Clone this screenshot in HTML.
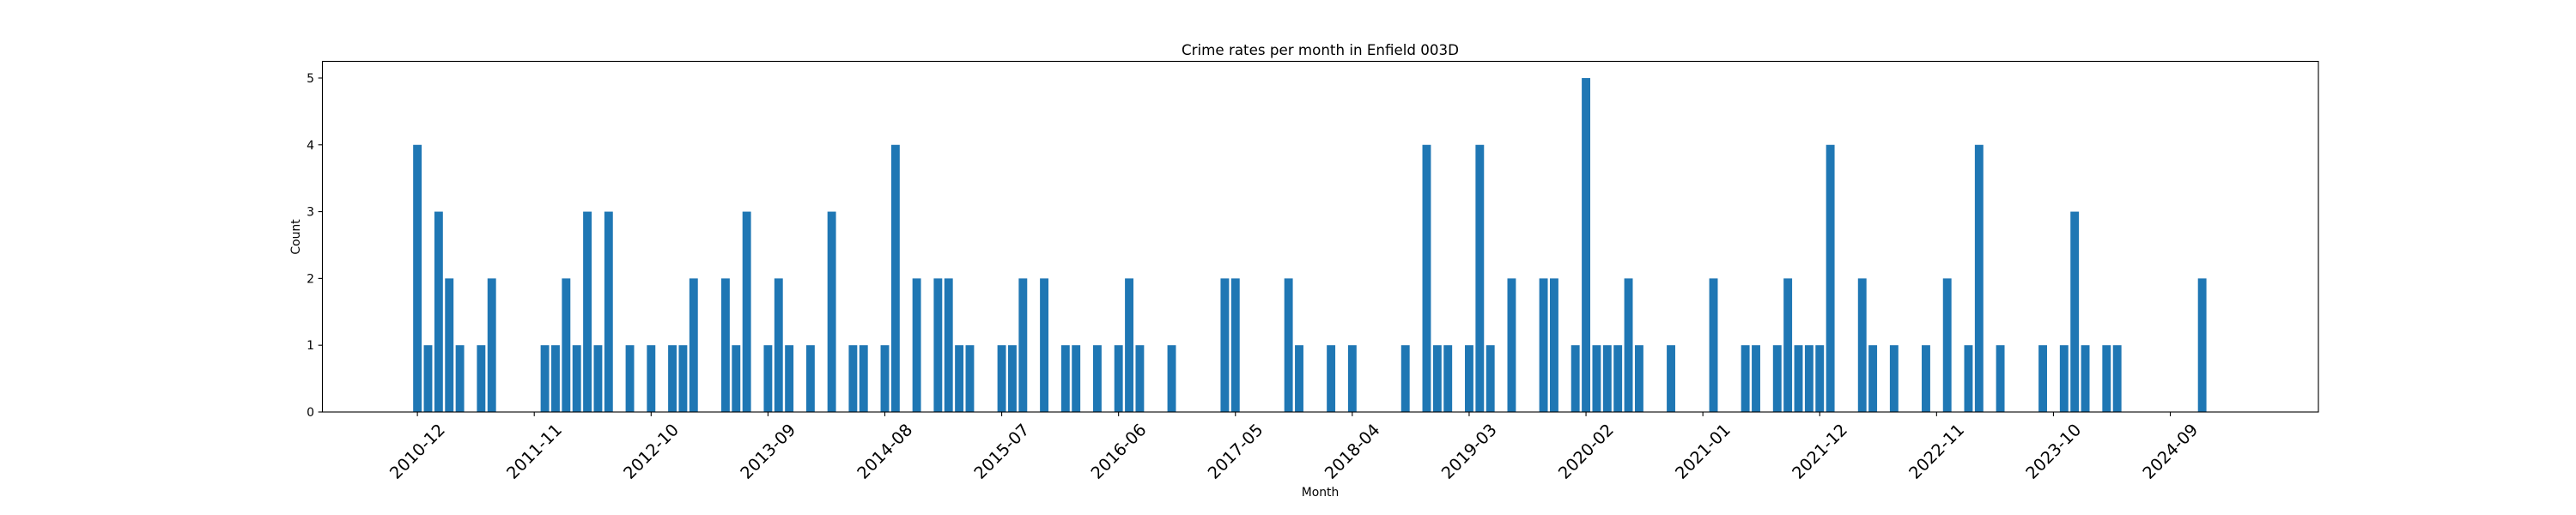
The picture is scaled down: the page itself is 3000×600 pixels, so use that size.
<!DOCTYPE html>
<html>
<head>
<meta charset="utf-8">
<style>
html,body{margin:0;padding:0;background:#fff;}
svg{display:block;}
text{font-family:"DejaVu Sans","Liberation Sans",sans-serif;fill:#000;}
</style>
</head>
<body>
<svg id="chart" width="3000" height="600" viewBox="0 0 3000 600" xmlns="http://www.w3.org/2000/svg">
  <rect x="0" y="0" width="3000" height="600" fill="#fff"/>
  <text x="1537.5" y="64" font-size="16.7" text-anchor="middle">Crime rates per month in Enfield 003D</text>
  <text x="1537.5" y="578" font-size="13.9" text-anchor="middle">Month</text>
  <text x="0" y="0" font-size="13.9" text-anchor="middle" transform="translate(349,276) rotate(-90)">Count</text>
  <g id="bars"></g>
  <g id="xticks"></g>
  <g id="yticks"></g>
  <rect x="375.5" y="71.5" width="2324.5" height="408.5" fill="none" stroke="#000" stroke-width="1.1"/>
</svg>
<script>
// ---- data ----
const startYear = 2010;
const startMonth = 12;
const counts = [
4,1,3,2,1,0,1,2,0,0,
0,0,1,1,2,1,3,1,3,0,
1,0,1,0,1,1,2,0,0,2,
1,3,0,1,2,1,0,1,0,3,
0,1,1,0,1,4,0,2,0,2,
2,1,1,0,0,1,1,2,0,2,
0,1,1,0,1,0,1,2,1,0,
0,1,0,0,0,0,2,2,0,0,
0,0,2,1,0,0,1,0,1,0,
0,0,0,1,0,4,1,1,0,1,
4,1,0,2,0,0,2,2,0,1,
5,1,1,1,2,1,0,0,1,0,
0,0,2,0,0,1,1,0,1,2,
1,1,1,4,0,0,2,1,0,1,
0,0,1,0,2,0,1,4,0,1,
0,0,0,1,0,1,3,1,0,1,
1,0,0,0,0,0,0,0,2,0,
0
];
const xTickLabels = ["2010-12","2011-11","2012-10","2013-09","2014-08","2015-07","2016-06","2017-05","2018-04","2019-03","2020-02","2021-01","2021-12","2022-11","2023-10","2024-09"];
const yTickValues = [0,1,2,3,4,5];

// ---- axes ----
const NS = "http://www.w3.org/2000/svg";
const n = counts.length;
const plotL = 375.5, plotR = 2700, zeroY = 480, topY = 71.5;
const span = (n - 1) + 0.8;
const xmin = -0.4 - 0.05 * span, xmax = (n - 1) + 0.4 + 0.05 * span;
function xScale(i){ return plotL + (i - xmin) / (xmax - xmin) * (plotR - plotL); }
const ymax = 5 * 1.05;
function yScale(v){ return zeroY - v / ymax * (zeroY - topY); }
const bw = 0.8 * (plotR - plotL) / (xmax - xmin);

function monthLabel(i){
  let m = startMonth - 1 + i;
  const y = startYear + Math.floor(m / 12);
  m = m % 12 + 1;
  return y + "-" + (m < 10 ? "0" + m : m);
}

const barsG = document.getElementById("bars");
counts.forEach((v, i) => {
  if (v <= 0) return;
  const r = document.createElementNS(NS, "rect");
  r.setAttribute("x", xScale(i) - bw / 2);
  r.setAttribute("y", yScale(v));
  r.setAttribute("width", bw);
  r.setAttribute("height", zeroY - yScale(v));
  r.setAttribute("fill", "#1f77b4");
  
  
  barsG.appendChild(r);
});

const xg = document.getElementById("xticks");
xTickLabels.forEach((lab, k) => {
  const i = k * 11;
  const x = xScale(i);
  const t = document.createElementNS(NS, "line");
  t.setAttribute("x1", x); t.setAttribute("x2", x);
  t.setAttribute("y1", zeroY); t.setAttribute("y2", zeroY + 4.9);
  t.setAttribute("stroke", "#000"); t.setAttribute("stroke-width", "1.1");
  
  
  xg.appendChild(t);
  const tx = document.createElementNS(NS, "text");
  tx.setAttribute("x", 0); tx.setAttribute("y", 0);
  tx.setAttribute("font-size", "19.4");
  tx.setAttribute("text-anchor", "middle");
  tx.setAttribute("dominant-baseline", "central");
  tx.setAttribute("transform", "translate(" + x + ",526) rotate(-45)");
  tx.textContent = lab;
  
  
  xg.appendChild(tx);
});

const yg = document.getElementById("yticks");
yTickValues.forEach(v => {
  const y = yScale(v);
  const t = document.createElementNS(NS, "line");
  t.setAttribute("x1", plotL - 4.9); t.setAttribute("x2", plotL);
  t.setAttribute("y1", y); t.setAttribute("y2", y);
  t.setAttribute("stroke", "#000"); t.setAttribute("stroke-width", "1.1");
  
  
  yg.appendChild(t);
  const tx = document.createElementNS(NS, "text");
  tx.setAttribute("x", plotL - 9.5);
  tx.setAttribute("y", y + 5);
  tx.setAttribute("font-size", "13.9");
  tx.setAttribute("text-anchor", "end");
  tx.textContent = String(v);
  
  
  yg.appendChild(tx);
});
</script>
</body>
</html>
